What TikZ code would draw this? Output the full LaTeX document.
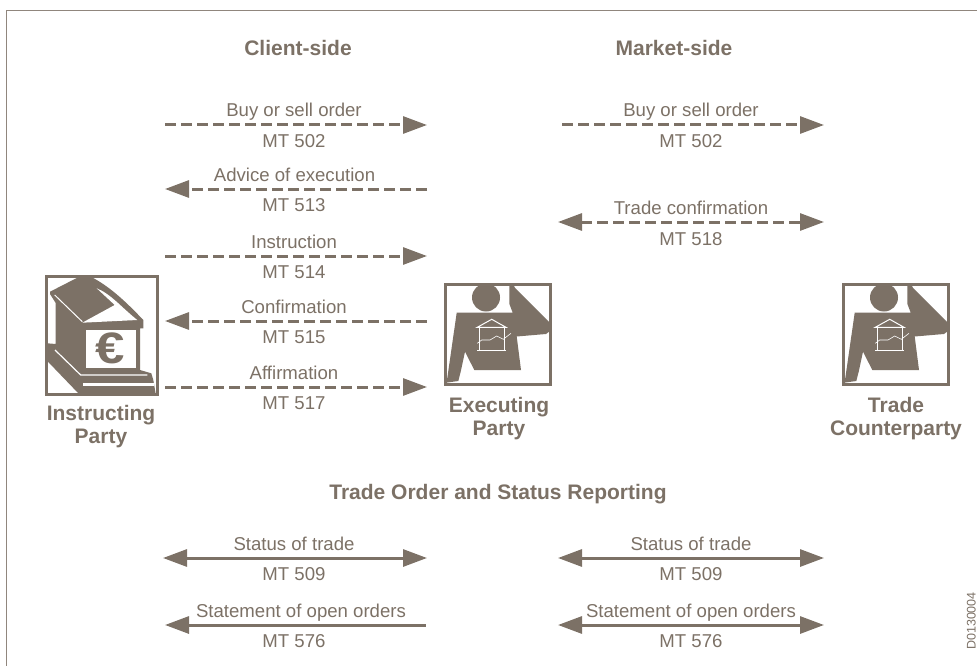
\documentclass[tikz,border=0pt]{standalone}
\usepackage{fontspec}
\setmainfont{Liberation Sans}
\usetikzlibrary{arrows.meta}
\definecolor{swiftbrown}{HTML}{7C7166}
\tikzset{
    msg/.style={anchor=base,text=swiftbrown,font=\fontsize{18.6}{20}\selectfont},
    head/.style={anchor=base,text=swiftbrown,font=\fontsize{21}{23}\selectfont\bfseries},
    flow/.style={swiftbrown,line width=3pt},
    order/.style={flow,dash pattern=on 11pt off 5pt},
    tip/.tip={Triangle[length=24pt,width=17pt]},
    person/.pic={
        \draw[swiftbrown,line width=3pt,fill=white] (0,0) rectangle (105.5,100);
        \begin{scope}
            \clip (0,0) rectangle (105.5,100);
            \fill[swiftbrown] (41,13.5) circle (14);
            \fill[swiftbrown] (11.7,28.7) -- (67.7,28.7) -- (64.3,19.7) -- (64.3,0) -- (68,0) -- (70,4)
                -- (105,39) -- (105,47) -- (101,50) -- (71.7,52.5) -- (76,86) -- (29.3,86)
                -- (20,67.7) -- (15.7,87.7) -- (13.3,97) -- (1,98.7) -- (2.3,94) -- cycle;
        \end{scope}
        \draw[white,line width=1pt] (32.3,43.3) -- (46.7,35.3) -- (61,43.3) -- cycle;
        \draw[white,line width=1pt] (34.3,43.3) -- (34.3,66.7);
        \draw[white,line width=0.8pt] (59,43.3) -- (59,66.7);
        \draw[white,line width=1pt] (32.3,66.7) -- (61,66.7);
        \draw[white,line width=0.6pt] (32.3,59.3) -- (36.7,56) -- (45,56) -- (51.7,52) -- (58.3,55.3) -- (66,49.3);
    },
    bank/.pic={
        \draw[swiftbrown,line width=3pt,fill=white] (0,0) rectangle (111,118);
        %% Building
        \fill[swiftbrown] (4,15.7) -- (34.7,0) -- (44.7,0.7) .. controls (65,11) and (82,28) .. (97.3,44)
            -- (97.3,52.3) -- (94,52.3) -- (94,94) -- (105.3,97.3) -- (107.3,104) -- (109.7,118) -- (33,118)
            -- (1.3,85) -- (1.3,67.3) -- (9.7,68) -- (9.7,27) -- (4,18) -- cycle;
        %% Roof
        \fill[white] (50.7,12.3) .. controls (65,18) and (76,32) .. (91.3,44) -- (36.3,46.7) -- (68.7,29) -- cycle;
        \draw[white,line width=1pt] (8.7,19) -- (36.3,45.7);
        %% Front
        \fill[white] (40.3,54) rectangle (90.3,92.3);
        %% Base
        \draw[white,line width=1.2pt] (9,74) -- (34.7,99) -- (101.3,99);
        \draw[white,line width=2.4pt] (37.3,108.5) -- (108,108.5);
    }
}
\begin{document}
\begin{tikzpicture}[x=1pt,y=-1pt]
    \useasboundingbox (0,0) rectangle (977,666);
    %% Frame
    \draw[swiftbrown!85,line width=1.6pt] (977,10.5) -- (6.5,10.5) -- (6.5,666);
    %% Headings
    \node[head] (clientside) at (298,56) {Client-side};
    \node[head] (marketside) at (674,56) {Market-side};
    \node[head] (reporting) at (498,499) {Trade Order and Status Reporting};
    %% Parties
    \pic (instructing) at (46,276) {bank};
    \node[swiftbrown,xscale=1.2,font=\fontsize{44}{44}\selectfont\bfseries] (euro) at (110,348) {€};
    \node[head] (instructingA) at (101,420) {Instructing};
    \node[head] (instructingB) at (101,443) {Party};
    \pic (executing) at (445,284) {person};
    \node[head] (executingA) at (499,412) {Executing};
    \node[head] (executingB) at (499,435) {Party};
    \pic (counterparty) at (843,284) {person};
    \node[head] (counterA) at (896,412) {Trade};
    \node[head] (counterB) at (896,435) {Counterparty};
    %% Client-side ends
    \coordinate (cbuyA) at (165,125);   \coordinate (cbuyB) at (427,125);
    \coordinate (adviceA) at (165,189); \coordinate (adviceB) at (427,189);
    \coordinate (instrA) at (165,256);  \coordinate (instrB) at (427,256);
    \coordinate (confA) at (165,321);   \coordinate (confB) at (427,321);
    \coordinate (affA) at (165,387);    \coordinate (affB) at (427,387);
    %% Market-side ends
    \coordinate (mbuyA) at (562,125);   \coordinate (mbuyB) at (824,125);
    \coordinate (tradeA) at (558,222);  \coordinate (tradeB) at (824,222);
    %% Reporting ends
    \coordinate (cstatA) at (163,558);  \coordinate (cstatB) at (427,558);
    \coordinate (copenA) at (165,625);  \coordinate (copenB) at (426,625);
    \coordinate (mstatA) at (558,558);  \coordinate (mstatB) at (824,558);
    \coordinate (mopenA) at (558,625);  \coordinate (mopenB) at (824,625);
    %% Client-side flows
    \draw[order,-{tip}] (cbuyA) -- (cbuyB);
    \node[msg] (cbuyT) at (294,117) {Buy or sell order};
    \node[msg] (cbuyN) at (294,147) {MT 502};
    \draw[order,-{tip}] (adviceB) -- (adviceA);
    \node[msg] (adviceT) at (294.5,181) {Advice of execution};
    \node[msg] (adviceN) at (294,211) {MT 513};
    \draw[order,-{tip}] (instrA) -- (instrB);
    \node[msg] (instrT) at (294,248) {Instruction};
    \node[msg] (instrN) at (294,278) {MT 514};
    \draw[order,-{tip}] (confB) -- (confA);
    \node[msg] (confT) at (294,313) {Confirmation};
    \node[msg] (confN) at (294,343) {MT 515};
    \draw[order,-{tip}] (affA) -- (affB);
    \node[msg] (affT) at (294,379) {Affirmation};
    \node[msg] (affN) at (294,409) {MT 517};
    %% Market-side flows
    \draw[order,-{tip}] (mbuyA) -- (mbuyB);
    \node[msg] (mbuyT) at (691,117) {Buy or sell order};
    \node[msg] (mbuyN) at (691,147) {MT 502};
    \draw[order,{tip}-{tip}] (tradeA) -- (tradeB);
    \node[msg] (tradeT) at (691,214) {Trade confirmation};
    \node[msg] (tradeN) at (691,245) {MT 518};
    %% Reporting flows
    \draw[flow,{tip}-{tip}] (cstatA) -- (cstatB);
    \node[msg] (cstatT) at (294,550) {Status of trade};
    \node[msg] (cstatN) at (294,580) {MT 509};
    \draw[flow,{tip}-] (copenA) -- (copenB);
    \node[msg] (copenT) at (301,617) {Statement of open orders};
    \node[msg] (copenN) at (294,647) {MT 576};
    \draw[flow,{tip}-{tip}] (mstatA) -- (mstatB);
    \node[msg] (mstatT) at (691,550) {Status of trade};
    \node[msg] (mstatN) at (691,580) {MT 509};
    \draw[flow,{tip}-{tip}] (mopenA) -- (mopenB);
    \node[msg] (mopenT) at (691,617) {Statement of open orders};
    \node[msg] (mopenN) at (691,647) {MT 576};
    %% Reference
    \node[text=swiftbrown,font=\fontsize{12.5}{14}\selectfont,rotate=90,anchor=base] (docref) at (975.5,621) {D0130004};
\end{tikzpicture}
\end{document}
